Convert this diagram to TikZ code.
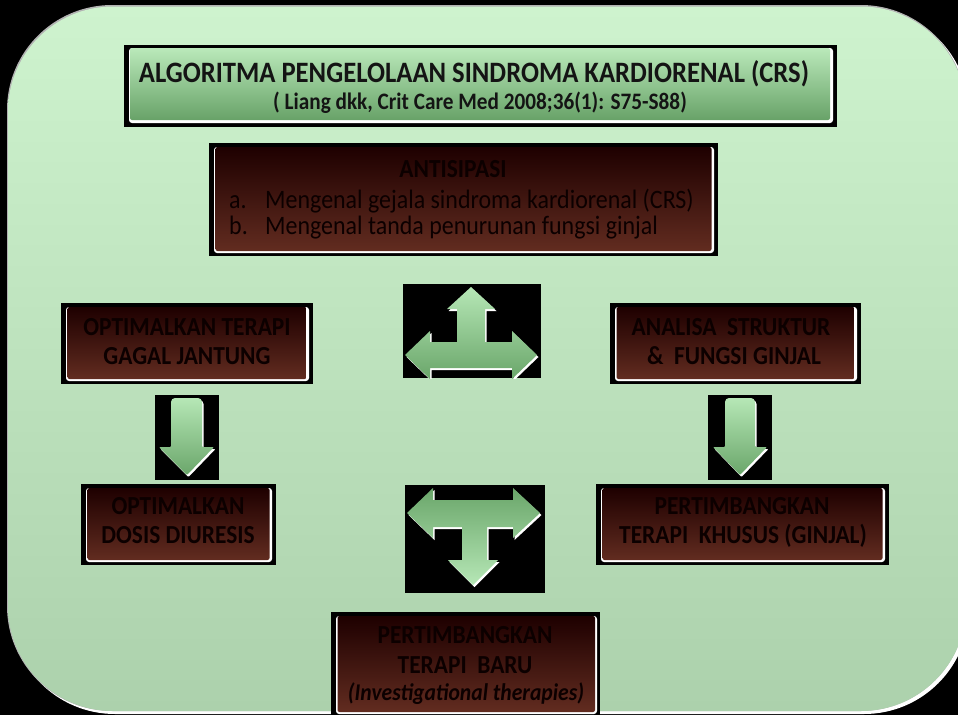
\documentclass[tikz,border=0pt]{standalone}
\usepackage{fontspec}
\setmainfont{Carlito}[FakeStretch=0.9]
\definecolor{bgtop}{RGB}{206,243,206}
\definecolor{bgbot}{RGB}{172,209,172}
\definecolor{rtop}{RGB}{30,0,0}
\definecolor{rmid}{RGB}{62,8,0}
\definecolor{rbot}{RGB}{98,44,32}
\definecolor{gtop}{RGB}{186,233,186}
\definecolor{gbot}{RGB}{104,162,104}
\definecolor{atop}{RGB}{182,231,182}
\definecolor{abot}{RGB}{106,166,106}
\definecolor{ink}{RGB}{12,0,0}
\tikzset{
  boxtext/.style={font=\fontsize{26}{29}\selectfont\bfseries, text=ink, inner sep=0, anchor=base},
  itemtext/.style={font=\fontsize{26.6}{29}\selectfont, text=ink, inner sep=0, anchor=base west},
  titletext/.style={font=\fontsize{29.6}{32}\selectfont\bfseries, text=black!92, inner sep=0, anchor=base},
  subtext/.style={font=\fontsize{23.6}{26}\selectfont\bfseries, text=black!92, inner sep=0, anchor=base},
  arrowup/.style={top color=atop, bottom color=abot},
  arrowdown/.style={top color=abot, bottom color=atop},
  arrowshadow/.style={fill=white},
}
\newcommand\redbox[4]{%
  \fill[black] (#1,#2) rectangle (#3,#4);
  \fill[white,rounded corners=3] (#1+5,#2+4) rectangle (#3-4,#4-3);
  \shade[top color=rtop,middle color=rmid,bottom color=rbot,rounded corners=2] (#1+6.5,#2+4) rectangle (#3-6.5,#4-5);
}
\begin{document}
\begin{tikzpicture}[x=1pt,y=-1pt]
\useasboundingbox (0,0) rectangle (958,715);
\clip (0,0) rectangle (958,715);
% background
\fill[black] (0,0) rectangle (958,715);
\fill[white,rounded corners=105] (10,8) rectangle (969,714);
\fill[gray!60,rounded corners=105] (7,5) rectangle (966,711);
\shade[top color=bgtop,bottom color=bgbot,rounded corners=105] (8,6.5) rectangle (966,711);

% title box
\fill[black] (124,45) rectangle (837,127);
\fill[white,rounded corners=3] (129,48) rectangle (833,123);
\shade[top color=gtop,bottom color=gbot,rounded corners=2] (130,48) rectangle (830,120);
\node[titletext] (t1) at (474,82) {ALGORITMA PENGELOLAAN SINDROMA KARDIORENAL (CRS)};
\node[subtext] (t2) at (480,109) {( Liang dkk, Crit Care Med 2008;36(1): S75-S88)};

% antisipasi
\redbox{209}{143}{718}{256}
\node[boxtext] (ant) at (453,177) {ANTISIPASI};
\node[itemtext] (anta) at (229,208) {\makebox[36pt][l]{a.}Mengenal gejala sindroma kardiorenal (CRS)};
\node[itemtext] (antb) at (229,234) {\makebox[36pt][l]{b.}Mengenal tanda penurunan fungsi ginjal};

% left box 1
\redbox{61}{303}{313}{384}
\node[boxtext] (o1a) at (187,335) {OPTIMALKAN TERAPI};
\node[boxtext] (o1b) at (187,364) {GAGAL JANTUNG};

% right box 1
\redbox{610}{303}{861}{384}
\node[boxtext] (a1a) at (731,335) {ANALISA\ \ STRUKTUR};
\node[boxtext] (a1b) at (734,364) {\&\ \ FUNGSI GINJAL};

% left box 2
\redbox{81}{484}{276}{565}
\node[boxtext] (o2a) at (178,514) {OPTIMALKAN};
\node[boxtext] (o2b) at (178,543) {DOSIS DIURESIS};

% right box 2
\redbox{596}{484}{889}{565}
\node[boxtext] (p1a) at (742,514) {PERTIMBANGKAN};
\node[boxtext] (p1b) at (743,543) {TERAPI\ \ KHUSUS (GINJAL)};

% bottom box
\fill[black] (331,612) rectangle (600,715);
\fill[white,rounded corners=3] (336,616) rectangle (597,714);
\shade[top color=rtop,middle color=rmid,bottom color=rbot,rounded corners=2] (337.5,616) rectangle (595,712);
\node[boxtext] (p2a) at (465,643) {PERTIMBANGKAN};
\node[boxtext] (p2b) at (465,673) {TERAPI\ \ BARU};
\node[boxtext,font=\fontsize{24}{27}\selectfont\bfseries\itshape] (p2c) at (466,700) {(Investigational therapies)};

% up three-way arrow
\fill[black] (403,284) rectangle (541,378);
\begin{scope}
\clip (403,284) rectangle (541,378);
\fill[arrowshadow,shift={(1.5,2)}] (512,379) -- (512,368) -- (430,368) -- (430,379) -- (405,355) -- (430,331) -- (430,342) -- (457,342) -- (457,309) -- (447,309) -- (471,287) -- (495,309) -- (485,309) -- (485,342) -- (512,342) -- (512,331) -- (537,355) -- cycle;
\shade[arrowup] (512,379) -- (512,368) -- (430,368) -- (430,379) -- (405,355) -- (430,331) -- (430,342) -- (457,342) -- (457,309) -- (447,309) -- (471,287) -- (495,309) -- (485,309) -- (485,342) -- (512,342) -- (512,331) -- (537,355) -- cycle;
\end{scope}

% lower T arrow
\fill[black] (405,485) rectangle (545,593);
\fill[arrowshadow,shift={(1.5,2)}] (407,513) -- (433,488) -- (433,500) -- (513,500) -- (513,488) -- (540,513) -- (513,538) -- (513,527) -- (487,527) -- (487,560) -- (498,560) -- (473,585) -- (448,560) -- (462,560) -- (462,527) -- (433,527) -- (433,538) -- cycle;
\shade[arrowdown] (407,513) -- (433,488) -- (433,500) -- (513,500) -- (513,488) -- (540,513) -- (513,538) -- (513,527) -- (487,527) -- (487,560) -- (498,560) -- (473,585) -- (448,560) -- (462,560) -- (462,527) -- (433,527) -- (433,538) -- cycle;

% down arrows
\fill[black] (155,395) rectangle (219,480);
\fill[arrowshadow,shift={(1.5,2)},rounded corners=1] (171,447) [rounded corners=4] -- (171,398) -- (202,398) [rounded corners=1] -- (202,447) -- (214,447) -- (187,475) -- (159,447) -- cycle;
\shade[arrowup,rounded corners=1] (171,447) [rounded corners=4] -- (171,398) -- (202,398) [rounded corners=1] -- (202,447) -- (214,447) -- (187,475) -- (159,447) -- cycle;

\fill[black] (708,395) rectangle (772,480);
\fill[arrowshadow,shift={(1.5,2)},rounded corners=1] (725,447) [rounded corners=4] -- (725,398) -- (755,398) [rounded corners=1] -- (755,447) -- (767,447) -- (740,475) -- (713,447) -- cycle;
\shade[arrowup,rounded corners=1] (725,447) [rounded corners=4] -- (725,398) -- (755,398) [rounded corners=1] -- (755,447) -- (767,447) -- (740,475) -- (713,447) -- cycle;
\end{tikzpicture}
\end{document}
